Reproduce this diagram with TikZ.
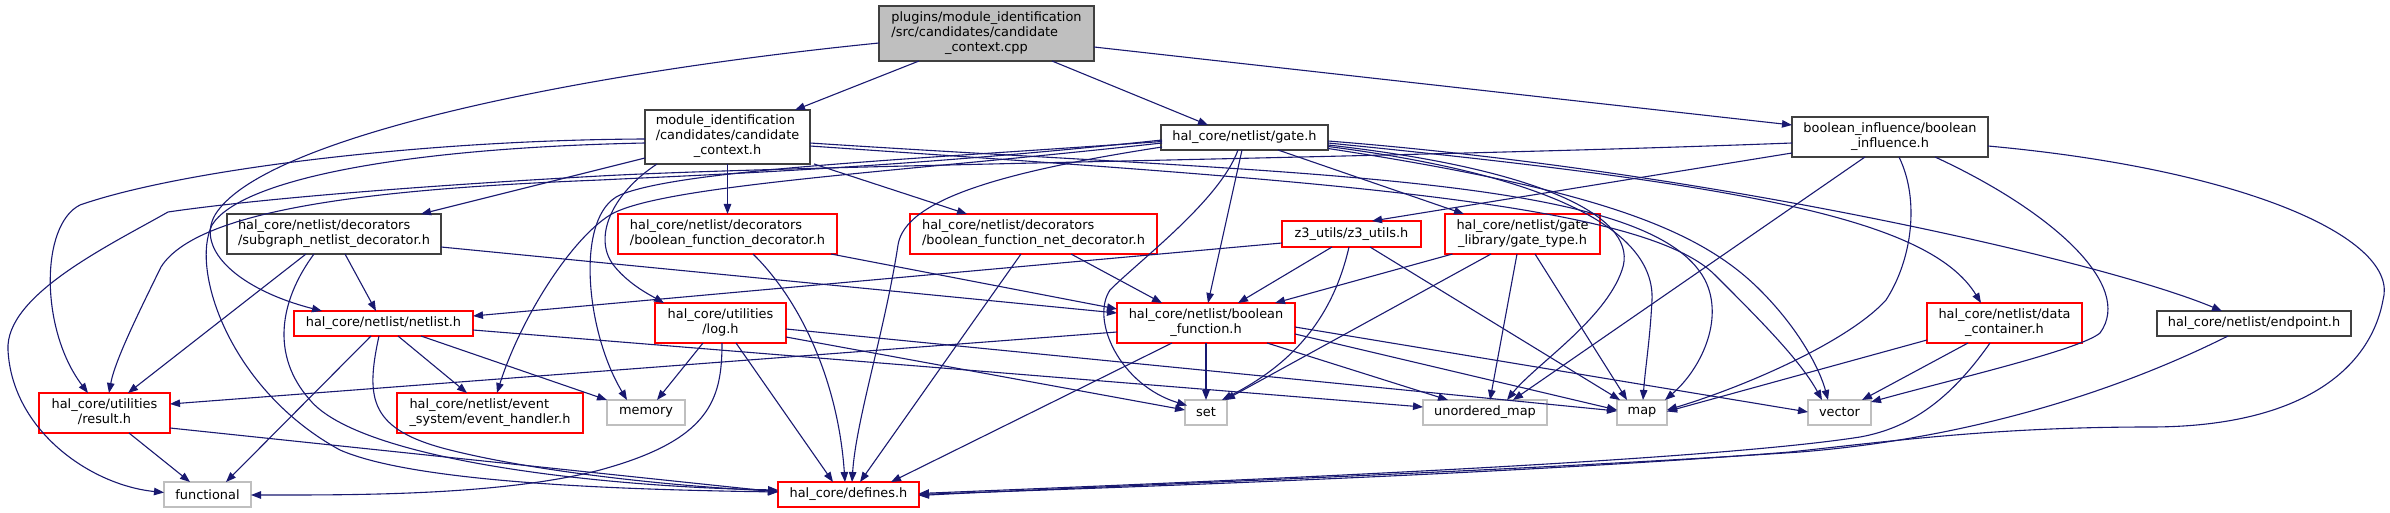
\documentclass[tikz,border=0pt]{standalone}
\usepackage{fontspec}
\setmainfont{DejaVu Sans}
\usetikzlibrary{arrows.meta,calc}
\definecolor{edgeblue}{HTML}{191970}
\definecolor{nodegray}{HTML}{BFBFBF}
\definecolor{darkborder}{HTML}{404040}
\definecolor{nodered}{HTML}{FF0000}
\newcommand\twoline[2]{\begin{tabular}{@{}l@{}}#1\\\multicolumn{1}{@{}c@{}}{#2}\end{tabular}}
\newcommand\threeline[3]{\begin{tabular}{@{}l@{}}#1\\#2\\\multicolumn{1}{@{}c@{}}{#3}\end{tabular}}
\begin{document}
\begin{tikzpicture}[x=1pt,y=-1pt,
  nbase/.style={rectangle, inner sep=0pt, font=\fontsize{12.9}{15}\selectfont, line width=1.3pt, fill=white},
  nblack/.style={nbase, draw=darkborder},
  nred/.style={nbase, draw=nodered},
  ngray/.style={nbase, draw=nodegray},
  nroot/.style={nbase, draw=darkborder, fill=nodegray},
  dep/.style={draw=edgeblue, line width=1.1pt, -{Triangle[length=10pt,width=7.5pt]}}]
\useasboundingbox (0,0) rectangle (2390,513);
% nodes
\node[nroot, minimum width=215pt, minimum height=55pt] (root) at (986.5,33.5) {\threeline{plugins/module\_identification}{/src/candidates/candidate}{\_context.cpp}};
\node[nblack, minimum width=165pt, minimum height=54pt] (ctx) at (727.5,137) {\threeline{module\_identification}{/candidates/candidate}{\_context.h}};
\node[nblack, minimum width=167pt, minimum height=25pt] (gate) at (1244.5,137.5) {hal\_core/netlist/gate.h};
\node[nblack, minimum width=196pt, minimum height=40pt] (bi) at (1890,137) {\twoline{boolean\_influence/boolean}{\_influence.h}};
\node[nblack, minimum width=214pt, minimum height=40pt] (sub) at (334,234) {\twoline{hal\_core/netlist/decorators}{/subgraph\_netlist\_decorator.h}};
\node[nred, minimum width=219pt, minimum height=40pt] (bfd) at (727.5,234) {\twoline{hal\_core/netlist/decorators}{/boolean\_function\_decorator.h}};
\node[nred, minimum width=247pt, minimum height=40pt] (bfnd) at (1033.5,234) {\twoline{hal\_core/netlist/decorators}{/boolean\_function\_net\_decorator.h}};
\node[nred, minimum width=139pt, minimum height=26pt] (z3) at (1351.5,234) {z3\_utils/z3\_utils.h};
\node[nred, minimum width=155pt, minimum height=40pt] (gt) at (1522.5,234) {\twoline{hal\_core/netlist/gate}{\_library/gate\_type.h}};
\node[nred, minimum width=179pt, minimum height=25pt] (nl) at (383.5,323.5) {hal\_core/netlist/netlist.h};
\node[nred, minimum width=131pt, minimum height=40pt] (log) at (720.5,323) {\twoline{hal\_core/utilities}{/log.h}};
\node[nred, minimum width=178pt, minimum height=40pt] (bf) at (1206,323) {\twoline{hal\_core/netlist/boolean}{\_function.h}};
\node[nred, minimum width=155pt, minimum height=40pt] (dc) at (2004.5,323) {\twoline{hal\_core/netlist/data}{\_container.h}};
\node[nblack, minimum width=194pt, minimum height=25pt] (ep) at (2254,323.5) {hal\_core/netlist/endpoint.h};
\node[nred, minimum width=131pt, minimum height=40pt] (res) at (104.5,413) {\twoline{hal\_core/utilities}{/result.h}};
\node[nred, minimum width=186pt, minimum height=40pt] (evh) at (490,413) {\twoline{hal\_core/netlist/event}{\_system/event\_handler.h}};
\node[ngray, minimum width=78pt, minimum height=25pt] (mem) at (646,412.5) {memory};
\node[ngray, minimum width=42pt, minimum height=25pt] (set) at (1206,412.5) {set};
\node[ngray, minimum width=124pt, minimum height=25pt] (umap) at (1485,412.5) {unordered\_map};
\node[ngray, minimum width=50pt, minimum height=25pt] (map) at (1642,412.5) {map};
\node[ngray, minimum width=63pt, minimum height=25pt] (vec) at (1839.5,412.5) {vector};
\node[ngray, minimum width=87pt, minimum height=25pt] (fun) at (207.5,494.5) {functional};
\node[nred, minimum width=141pt, minimum height=25pt] (def) at (848.5,494.5) {hal\_core/defines.h};
% root edges
\draw[dep] ($(root)+(-67.5,27.5)$) -- ($(ctx)+(67.5,-27)$);
\draw[dep] ($(root)+(65.5,27.5)$) -- ($(gate)+(-36.5,-12.5)$);
\draw[dep] ($(root)+(107.5,13.5)$) -- ($(bi)+(-98,-12)$);
\draw[dep] ($(root)+(-107.5,9.5)$) .. controls (560,75) and (260,140) .. (215,215) .. controls (195,250) and (240,290) .. ($(nl)+(-61.5,-12.5)$);
% ctx edges
\draw[dep] ($(ctx)+(-82.5,21)$) -- ($(sub)+(87,-20)$);
\draw[dep] ($(ctx)+(0,27)$) -- ($(bfd)+(0,-20)$);
\draw[dep] ($(ctx)+(86.5,27)$) -- ($(bfnd)+(-66.5,-20)$);
\draw[dep] ($(ctx)+(-70.5,27)$) .. controls (610,195) and (592,240) .. (615,267) .. controls (630,285) and (650,295) .. ($(log)+(-56.5,-20)$);
\draw[dep] ($(ctx)+(-82.5,2)$) .. controls (420,140) and (180,170) .. (80,205) .. controls (40,225) and (40,330) .. ($(res)+(-16.5,-20)$);
\draw[dep] ($(ctx)+(-82.5,6)$) .. controls (400,148) and (240,180) .. (212,225) .. controls (190,270) and (230,390) .. (340,450) .. controls (420,485) and (650,490) .. ($(def)+(-70.5,-2.5)$);
\draw[dep] ($(ctx)+(82.5,6)$) .. controls (1300,175) and (1650,175) .. (1705,280) .. controls (1725,320) and (1700,370) .. ($(map)+(23,-12.5)$);
\draw[dep] ($(ctx)+(82.5,9)$) .. controls (1300,180) and (1640,200) .. (1715,275) .. controls (1760,320) and (1800,360) .. ($(vec)+(-17.5,-12.5)$);
% gate edges
\draw[dep] ($(gate)+(-82.5,2.5)$) .. controls (900,168) and (700,175) .. (600,180) .. controls (400,188) and (200,205) .. (161,267) .. controls (140,310) and (115,360) .. ($(res)+(4.5,-20)$);
\draw[dep] ($(gate)+(-82.5,5.5)$) .. controls (900,172) and (660,185) .. (610,215) .. controls (570,240) and (520,320) .. ($(evh)+(7,-20)$);
\draw[dep] ($(gate)+(-82.5,4)$) .. controls (900,160) and (680,170) .. (620,195) .. controls (575,215) and (585,330) .. ($(mem)+(-19,-12.5)$);
\draw[dep] ($(gate)+(-82.5,9.5)$) .. controls (1000,172) and (905,200) .. (898,245) .. controls (885,330) and (856,420) .. ($(def)+(3.5,-12.5)$);
\draw[dep] ($(gate)+(-2.5,12.5)$) -- ($(bf)+(2,-20)$);
\draw[dep] ($(gate)+(-6.5,12.5)$) .. controls (1220,200) and (1140,260) .. (1110,290) .. controls (1090,320) and (1120,385) .. ($(set)+(-19,-7)$);
\draw[dep] ($(gate)+(33.5,12.5)$) -- ($(gt)+(-58.5,-20)$);
\draw[dep] ($(gate)+(83.5,3.5)$) .. controls (1700,170) and (2100,260) .. ($(ep)+(-32,-12.5)$);
\draw[dep] ($(gate)+(83.5,5.5)$) .. controls (1750,185) and (1930,220) .. ($(dc)+(-23.5,-20)$);
\draw[dep] ($(gate)+(83.5,7.5)$) .. controls (1550,170) and (1640,220) .. (1622,270) .. controls (1605,320) and (1535,365) .. ($(umap)+(22,-12.5)$);
\draw[dep] ($(gate)+(83.5,9)$) .. controls (1550,175) and (1655,230) .. (1652,300) .. controls (1650,340) and (1645,370) .. ($(map)+(1,-12.5)$);
\draw[dep] ($(gate)+(83.5,11)$) .. controls (1600,190) and (1700,230) .. (1760,290) .. controls (1800,330) and (1820,370) .. ($(vec)+(-11.5,-12.5)$);
% boolean influence edges
\draw[dep] ($(bi)+(-98,16)$) -- ($(z3)+(20.5,-13)$);
\draw[dep] ($(bi)+(-98,6)$) .. controls (1400,158) and (800,165) .. (600,176) .. controls (400,187) and (250,200) .. (168,212) .. controls (110,245) and (5,295) .. (8,350) .. controls (12,430) and (90,485) .. ($(fun)+(-43.5,-2)$);
\draw[dep] ($(bi)+(-25,20)$) -- ($(umap)+(28,-12.5)$);
\draw[dep] ($(bi)+(9,20)$) .. controls (1920,200) and (1912,260) .. (1886,300) .. controls (1850,340) and (1750,385) .. ($(map)+(25,-2.5)$);
\draw[dep] ($(bi)+(45,20)$) .. controls (2050,210) and (2135,285) .. (2100,333) .. controls (2080,350) and (1950,380) .. ($(vec)+(31.5,-10.5)$);
\draw[dep] ($(bi)+(98,9)$) .. controls (2250,170) and (2400,240) .. (2383,300) .. controls (2370,370) and (2300,427) .. (2150,427) .. controls (2000,427) and (1900,440) .. (1790,452) .. controls (1500,475) and (1100,488) .. ($(def)+(70.5,0)$);
% data container / endpoint
\draw[dep] ($(dc)+(-77.5,17)$) -- ($(map)+(25,-1)$);
\draw[dep] ($(dc)+(-36.5,20)$) -- ($(vec)+(22.5,-12.5)$);
\draw[dep] ($(dc)+(-14.5,20)$) .. controls (1950,400) and (1910,428) .. (1860,437) .. controls (1700,462) and (1200,482) .. ($(def)+(70.5,-1)$);
\draw[dep] ($(ep)+(-26,12.5)$) .. controls (2100,400) and (1950,440) .. (1800,452) .. controls (1500,472) and (1100,486) .. ($(def)+(70.5,1)$);
% boolean function
\draw[dep] ($(bf)+(-89,9)$) -- ($(res)+(65.5,-9)$);
\draw[dep] ($(bf)+(-34,20)$) -- ($(def)+(42.5,-12.5)$);
\draw[dep] ($(bf)+(0,20)$) -- ($(set)+(0,-12.5)$);
\draw[dep] ($(bf)+(61,20)$) -- ($(umap)+(-37,-12.5)$);
\draw[dep] ($(bf)+(89,11)$) -- ($(map)+(-25,-2.5)$);
\draw[dep] ($(bf)+(89,4)$) -- ($(vec)+(-31.5,-0.5)$);
% log
\draw[dep] ($(log)+(-17.5,20)$) -- ($(mem)+(11,-12.5)$);
\draw[dep] ($(log)+(1.5,20)$) .. controls (722,400) and (710,440) .. (600,470) .. controls (500,496) and (350,495) .. ($(fun)+(43.5,0.5)$);
\draw[dep] ($(log)+(15.5,20)$) -- ($(def)+(-15.5,-12.5)$);
\draw[dep] ($(log)+(65.5,14)$) -- ($(set)+(-21,-2.5)$);
\draw[dep] ($(log)+(65.5,6)$) -- ($(map)+(-25,-1.5)$);
% netlist
\draw[dep] ($(nl)+(-12.5,12.5)$) -- ($(fun)+(18.5,-12.5)$);
\draw[dep] ($(nl)+(-4.5,12.5)$) .. controls (365,400) and (370,430) .. (450,450) .. controls (550,475) and (700,488) .. ($(def)+(-70.5,-3.5)$);
\draw[dep] ($(nl)+(14.5,12.5)$) -- ($(evh)+(-23,-20)$);
\draw[dep] ($(nl)+(37.5,12.5)$) -- ($(mem)+(-39,-12.5)$);
\draw[dep] ($(nl)+(89.5,6.5)$) -- ($(umap)+(-62,-5.5)$);
% subgraph decorator
\draw[dep] ($(sub)+(11,20)$) -- ($(nl)+(-7.5,-12.5)$);
\draw[dep] ($(sub)+(-28,20)$) -- ($(res)+(23.5,-20)$);
\draw[dep] ($(sub)+(-20,20)$) .. controls (280,300) and (270,355) .. (310,400) .. controls (360,460) and (600,487) .. ($(def)+(-70.5,-4.5)$);
\draw[dep] ($(sub)+(107,13)$) -- ($(bf)+(-89,-10)$);
% decorators
\draw[dep] ($(bfd)+(103.5,20)$) -- ($(bf)+(-89,-14)$);
\draw[dep] ($(bfd)+(25.5,20)$) .. controls (800,300) and (838,380) .. ($(def)+(-3.5,-12.5)$);
\draw[dep] ($(bfnd)+(37.5,20)$) -- ($(bf)+(-44,-20)$);
\draw[dep] ($(bfnd)+(-12.5,20)$) -- ($(def)+(11.5,-12.5)$);
% z3 utils
\draw[dep] ($(z3)+(-69.5,9)$) -- ($(nl)+(89.5,-7.5)$);
\draw[dep] ($(z3)+(-19.5,13)$) -- ($(bf)+(32,-20)$);
\draw[dep] ($(z3)+(-2.5,13)$) .. controls (1330,330) and (1280,370) .. ($(set)+(16,-12.5)$);
\draw[dep] ($(z3)+(18.5,13)$) -- ($(map)+(-22,-12.5)$);
% gate type
\draw[dep] ($(gt)+(-70,20)$) -- ($(bf)+(69,-20)$);
\draw[dep] ($(gt)+(-31.5,20)$) -- ($(set)+(19,-12.5)$);
\draw[dep] ($(gt)+(-5.5,20)$) -- ($(umap)+(5,-12.5)$);
\draw[dep] ($(gt)+(12.5,20)$) -- ($(map)+(-15,-12.5)$);
% result
\draw[dep] ($(res)+(24.5,20)$) -- ($(fun)+(-17.5,-12.5)$);
\draw[dep] ($(res)+(65.5,15)$) -- ($(def)+(-70.5,-2.5)$);
\end{tikzpicture}
\end{document}
